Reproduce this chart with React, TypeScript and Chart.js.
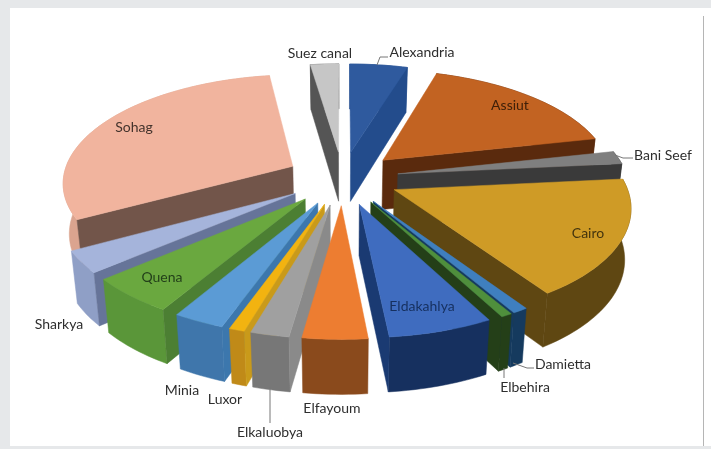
import React, { useEffect, useRef } from "react";
import { Chart, registerables } from "chart.js";

Chart.register(...registerables);

const categories = ["Alexandria", "Assiut", "Bani Seef", "Cairo", "Damietta", "Elbehira", "Eldakahlya", "Elfayoum", "Elkaluobya", "Luxor", "Minia", "Quena", "Sharkya", "Sohag", "Suez canal"];
const shares = [4.72, 16.81, 1.92, 17.2, 0.92, 0.67, 6.2, 3.83, 2.28, 0.92, 3.05, 5.28, 3.22, 30.67, 2.33];

const topColors = ["#2f5a9e", "#c26322", "#7f7f7f", "#cf9b26", "#3f7fbf", "#4f8f3c", "#3f6cbf", "#ed7d31", "#a0a0a0", "#f2b310", "#5b9bd5", "#6aa83f", "#a5b4db", "#f1b49e", "#c6c6c6"];
const outerColors = ["#254d8c", "#5a2a0d", "#3a3a3a", "#5f4712", "#153a5e", "#243f18", "#16305f", "#8a4a1c", "#777777", "#c08a18", "#3f76ab", "#5a9639", "#8f9fc6", "#dba48f", "#555555"];
const cutColors = ["#234c8c", "#5a2a0d", "#3a3a3a", "#5f4712", "#153a5e", "#243f18", "#1a3a72", "#8a4a1c", "#8a8a8a", "#c99a1a", "#3c77ad", "#4c7f33", "#667499", "#72554a", "#555555"];

type Lab = { x: number; y: number; color: string; leader?: number[][] };
const labelLayout: Lab[] = [
  { x: 422, y: 52, color: "#2e2e2e", leader: [[377, 65], [380, 57], [388, 57]] },
  { x: 510, y: 105, color: "#3f2008" },
  { x: 663, y: 155, color: "#2e2e2e", leader: [[615, 155], [623, 158], [633, 158]] },
  { x: 588, y: 233, color: "#43340e" },
  { x: 563, y: 364, color: "#2e2e2e", leader: [[513, 363], [527, 368], [534, 368]] },
  { x: 525, y: 387, color: "#2e2e2e", leader: [[504, 368], [504, 378]] },
  { x: 422, y: 306, color: "#16305f" },
  { x: 332, y: 408, color: "#2e2e2e" },
  { x: 270, y: 432, color: "#2e2e2e", leader: [[270, 387], [270, 423]] },
  { x: 225, y: 399, color: "#2e2e2e" },
  { x: 182, y: 390, color: "#2e2e2e" },
  { x: 162, y: 277, color: "#23401a" },
  { x: 59, y: 324, color: "#2e2e2e" },
  { x: 134, y: 127, color: "#43332c" },
  { x: 320, y: 53, color: "#2e2e2e" },
];

const PIVOT_X = 342.5;
const PIVOT_Y = 178;
const SPREAD_X = 230;
const SPREAD_Y = 107;
const PERSPECTIVE = 0.137;
const EXPLODE_U = 0.245;
const EXPLODE_V = 0.25;
const DEPTH = 50;

function project(u: number, v: number, lower: boolean) {
  const w = 1 / (1 - PERSPECTIVE * v);
  let x = PIVOT_X + SPREAD_X * u * w;
  let y = PIVOT_Y + SPREAD_Y * v * w;
  if (lower) {
    x = PIVOT_X + (x - PIVOT_X) * 0.978;
    y += DEPTH * (1 + 0.08 * v);
  }
  return [x, y];
}

const perspectivePie = {
  id: "perspectivePie",
  beforeDatasetsDraw(chart: any) {
    const ctx: CanvasRenderingContext2D = chart.ctx;
    const arcs: any[] = chart.getDatasetMeta(0).data;
    const order = arcs
      .map((arc, i) => ({ arc, i, key: Math.sin((arc.startAngle + arc.endAngle) / 2) }))
      .sort((a, b) => a.key - b.key);

    const fillPoly = (pts: number[][], color: string) => {
      ctx.beginPath();
      pts.forEach((p, k) => (k ? ctx.lineTo(p[0], p[1]) : ctx.moveTo(p[0], p[1])));
      ctx.closePath();
      ctx.fillStyle = color;
      ctx.strokeStyle = color;
      ctx.lineWidth = 0.5;
      ctx.fill();
      ctx.stroke();
    };

    for (const { arc, i } of order) {
      const { startAngle, endAngle } = arc;
      const mid = (startAngle + endAngle) / 2;
      const cu = Math.cos(mid) * EXPLODE_U;
      const cv = Math.sin(mid) * EXPLODE_V;
      const samples: number[][] = [];
      const n = Math.max(2, Math.ceil((endAngle - startAngle) * 40));
      for (let k = 0; k <= n; k++) {
        const t = startAngle + ((endAngle - startAngle) * k) / n;
        samples.push([cu + Math.cos(t), cv + Math.sin(t)]);
      }
      const up = samples.map((s) => project(s[0], s[1], false));
      const low = samples.map((s) => project(s[0], s[1], true));
      const apexUp = project(cu, cv, false);
      const apexLow = project(cu, cv, true);

      fillPoly([...up, ...low.slice().reverse()], outerColors[i]);
      if (Math.cos(startAngle) < 0) {
        fillPoly([apexUp, up[0], low[0], apexLow], cutColors[i]);
      }
      if (Math.cos(endAngle) > 0) {
        fillPoly([apexUp, up[n], low[n], apexLow], cutColors[i]);
      }
      fillPoly([apexUp, ...up], topColors[i]);
    }
    return false;
  },
  afterDraw(chart: any) {
    const ctx: CanvasRenderingContext2D = chart.ctx;
    ctx.save();
    ctx.font = "14px Lato, 'Open Sans', sans-serif";
    ctx.textAlign = "center";
    ctx.textBaseline = "middle";
    categories.forEach((name, i) => {
      const lab = labelLayout[i];
      if (lab.leader) {
        ctx.beginPath();
        lab.leader.forEach((p, k) => (k ? ctx.lineTo(p[0], p[1]) : ctx.moveTo(p[0], p[1])));
        ctx.strokeStyle = "#777";
        ctx.lineWidth = 1;
        ctx.stroke();
      }
      ctx.fillStyle = lab.color;
      ctx.fillText(name, lab.x, lab.y);
    });
    ctx.restore();
  },
};

export default function App() {
  const ref = useRef<HTMLCanvasElement>(null);
  useEffect(() => {
    document.body.style.margin = "0";
    const chart = new Chart(ref.current!, {
      type: "pie",
      data: {
        labels: categories,
        datasets: [{ data: shares, backgroundColor: topColors, borderWidth: 0 }],
      },
      options: {
        animation: false,
        responsive: false,
        plugins: { legend: { display: false }, tooltip: { enabled: false } },
      },
      plugins: [perspectivePie],
    } as any);
    return () => chart.destroy();
  }, []);
  return (
    <div style={{ position: "fixed", left: 0, top: 0, width: 711, height: 449, background: "#e6e8ea", overflow: "hidden" }}>
      <div style={{ position: "absolute", left: 10, top: 8, width: 701, height: 438, background: "#fff" }} />
      <div style={{ position: "absolute", left: 703, top: 16, width: 1, height: 430, background: "#b5b5b5" }} />
      <canvas ref={ref} width={711} height={449} style={{ position: "absolute", left: 0, top: 0 }} />
    </div>
  );
}
